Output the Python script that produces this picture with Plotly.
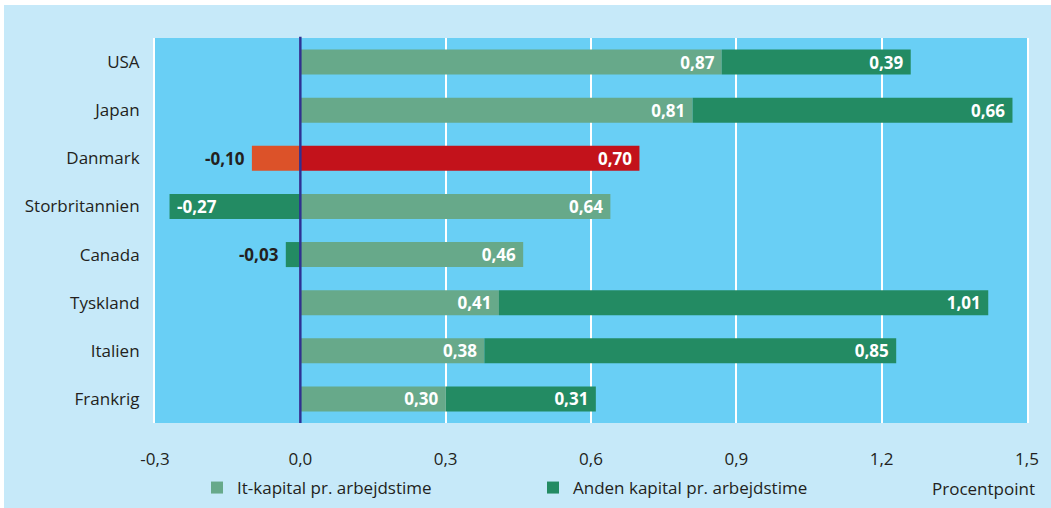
import plotly.graph_objects as go

countries = ["USA", "Japan", "Danmark", "Storbritannien", "Canada", "Tyskland", "Italien", "Frankrig"]
it_kapital = [0.87, 0.81, 0.70, 0.64, 0.46, 0.41, 0.38, 0.30]
anden_kapital = [0.39, 0.66, -0.10, -0.27, -0.03, 1.01, 0.85, 0.31]
tick_vals = [-0.3, 0.0, 0.3, 0.6, 0.9, 1.2, 1.5]
tick_text = ["-0,3", "0,0", "0,3", "0,6", "0,9", "1,2", "1,5"]

LIGHT_GREEN = "#67a98a"
DARK_GREEN = "#238b63"
DK_RED = "#c3121b"
DK_ORANGE = "#dc5229"
PLOT_BG = "#69cff5"
PAPER_BG = "#c6e9f9"
TEXT = "#231f20"
NB = "\u00a0"


def fmt(v):
    return f"{v:.2f}".replace(".", ",")


outside = {"Danmark", "Canada"}

it_colors = [DK_RED if c == "Danmark" else LIGHT_GREEN for c in countries]
anden_colors = [DK_ORANGE if c == "Danmark" else DARK_GREEN for c in countries]

it_text = [fmt(v) + NB for v in it_kapital]
anden_text = []
anden_pos = []
for c, v in zip(countries, anden_kapital):
    if c in outside:
        anden_text.append(fmt(v) + NB)
        anden_pos.append("outside")
    elif v < 0:
        anden_text.append(NB + fmt(v))
        anden_pos.append("inside")
    else:
        anden_text.append(fmt(v) + NB)
        anden_pos.append("inside")

fig = go.Figure()

fig.add_trace(go.Bar(
    y=countries, x=it_kapital, orientation="h",
    name="It-kapital pr. arbejdstime",
    marker=dict(color=it_colors, line=dict(width=0)),
    text=it_text, textposition="inside", insidetextanchor="end",
    textangle=0, constraintext="none",
    insidetextfont=dict(color="white", size=17, family="Open Sans", weight="bold"),
))

fig.add_trace(go.Bar(
    y=countries, x=anden_kapital, orientation="h",
    name="Anden kapital pr. arbejdstime",
    marker=dict(color=anden_colors, line=dict(width=0)),
    text=anden_text, textposition=anden_pos, insidetextanchor="end",
    textangle=0, constraintext="none",
    insidetextfont=dict(color="white", size=17, family="Open Sans", weight="bold"),
    outsidetextfont=dict(color=TEXT, size=17, family="Open Sans", weight="bold"),
))

# zero line over the bars
fig.add_shape(type="line", xref="x", yref="paper", x0=0, x1=0, y0=0, y1=1.003,
              line=dict(color="#2e3192", width=2.5), layer="above")

# white frame at top/left of the picture
fig.add_shape(type="rect", xref="paper", yref="paper",
              x0=-0.2, x1=(4 - 155) / 872, y0=-0.3, y1=1.2,
              fillcolor="white", line=dict(width=0), layer="above")
fig.add_shape(type="rect", xref="paper", yref="paper",
              x0=-0.2, x1=1.1, y0=(423 - 5) / 385, y1=1.2,
              fillcolor="white", line=dict(width=0), layer="above")

fig.add_annotation(text="Procentpoint", xref="paper", yref="paper",
                   x=(1037 - 155) / 872, y=(423 - 488) / 385,
                   xanchor="right", yanchor="middle", showarrow=False,
                   font=dict(size=17, color=TEXT))

fig.update_layout(
    width=1051, height=508,
    barmode="relative", bargap=0.48,
    paper_bgcolor=PAPER_BG, plot_bgcolor=PLOT_BG,
    font=dict(family="Open Sans", size=17, color=TEXT),
    margin=dict(l=155, r=24, t=38, b=85, autoexpand=False),
    xaxis=dict(range=[-0.3, 1.5], tickvals=tick_vals, ticktext=tick_text,
               showgrid=True, gridcolor="white", gridwidth=2, zeroline=False,
               ticks="", ticklabelstandoff=24, showline=False),
    yaxis=dict(autorange="reversed", showgrid=False, zeroline=False,
               showline=True, mirror=True, linecolor="white", linewidth=2,
               ticks="", ticklabelstandoff=10),
    legend=dict(orientation="h", x=(197 - 155) / 872, xanchor="left",
                y=(423 - 488) / 385, yanchor="middle", entrywidth=291,
                bgcolor="rgba(0,0,0,0)", font=dict(size=17, color=TEXT),
                traceorder="normal"),
)

fig.write_html("out.html", config={"displayModeBar": False},
               post_script="document.body.style.margin='0';document.body.style.overflow='hidden';")
